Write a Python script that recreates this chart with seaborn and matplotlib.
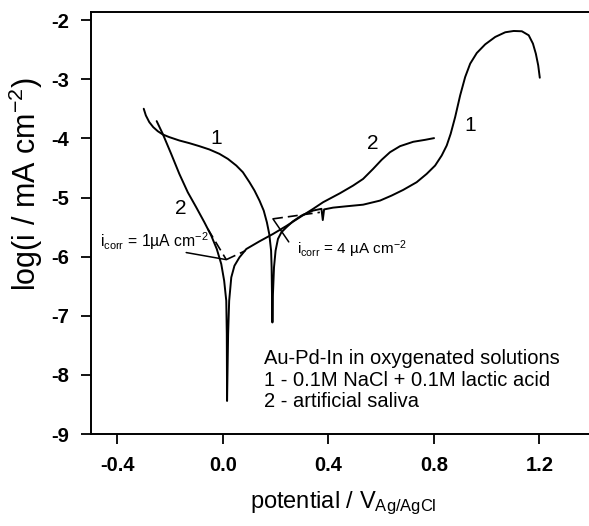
import numpy as np
import pandas as pd
import matplotlib
matplotlib.use("Agg")
import matplotlib.pyplot as plt
import seaborn as sns

# ---- data ----
curve1_E = [-0.300, -0.292, -0.279, -0.264, -0.247, -0.228, -0.203, -0.165, -0.127, -0.089,
            -0.051, -0.013, 0.019, 0.051, 0.076, 0.101, 0.120, 0.139, 0.155, 0.167,
            0.176, 0.183, 0.185, 0.186, 0.188,
            0.190, 0.194, 0.200, 0.209, 0.222, 0.241, 0.266, 0.298, 0.342, 0.374,
            0.379, 0.384, 0.418, 0.469, 0.532, 0.596, 0.640, 0.684, 0.735, 0.773,
            0.805, 0.830, 0.849, 0.864, 0.881, 0.900, 0.919, 0.938, 0.963, 0.995,
            1.033, 1.071, 1.103, 1.134, 1.160, 1.176, 1.187, 1.196, 1.202]
curve1_logi = [-3.497, -3.610, -3.723, -3.808, -3.876, -3.932, -3.977, -4.034, -4.079, -4.130,
               -4.186, -4.260, -4.345, -4.458, -4.571, -4.740, -4.881, -5.051, -5.220, -5.418,
               -5.616, -5.898, -6.181, -6.520, -7.113,
               -6.633, -6.181, -5.898, -5.700, -5.588, -5.503, -5.401, -5.305, -5.220, -5.190,
               -5.380, -5.200, -5.170, -5.147, -5.120, -5.051, -4.966, -4.870, -4.740, -4.599,
               -4.458, -4.288, -4.119, -3.921, -3.638, -3.271, -2.960, -2.734, -2.554, -2.407,
               -2.282, -2.203, -2.181, -2.186, -2.254, -2.395, -2.565, -2.763, -2.972]

curve2_E = [-0.251, -0.228, -0.196, -0.165, -0.133, -0.101, -0.070, -0.044, -0.023, -0.006,
            0.005, 0.013, 0.015, 0.016,
            0.020, 0.024, 0.032, 0.044, 0.063, 0.089, 0.139, 0.190, 0.241, 0.292,
            0.342, 0.380, 0.444, 0.494, 0.532, 0.570, 0.602, 0.634, 0.672, 0.722,
            0.767, 0.801]
curve2_logi = [-3.706, -3.921, -4.260, -4.599, -4.910, -5.164, -5.418, -5.644, -5.870, -6.124,
               -6.407, -6.746, -7.311, -8.441,
               -7.311, -6.746, -6.350, -6.153, -6.011, -5.870, -5.740, -5.616, -5.480, -5.333,
               -5.192, -5.079, -4.927, -4.797, -4.684, -4.514, -4.362, -4.232, -4.130, -4.056,
               -4.023, -3.994]

# Tafel extrapolation lines (dashed) and leader lines (solid)
tafel2_cath_E = [-0.057, 0.013]
tafel2_cath_logi = [-5.53, -6.05]
tafel2_anod_E = [0.013, 0.085]
tafel2_anod_logi = [-6.05, -5.90]
tafel1_E = [0.190, 0.368]
tafel1_logi = [-5.36, -5.25]
leader1_E = [-0.139, 0.013]
leader1_logi = [-5.93, -6.05]
leader2_E = [0.190, 0.250]
leader2_logi = [-5.36, -5.75]

x_ticks = [-0.4, 0.0, 0.4, 0.8, 1.2]
x_tick_labels = ["-0.4", "0.0", "0.4", "0.8", "1.2"]
y_ticks = [-9, -8, -7, -6, -5, -4, -3, -2]
y_tick_labels = ["-9", "-8", "-7", "-6", "-5", "-4", "-3", "-2"]

curve_labels = ["1", "1", "2", "2"]
curve_label_E = [-0.025, 0.938, 0.568, -0.158]
curve_label_logi = [-4.00, -3.78, -4.09, -5.19]

legend_lines = ["Au-Pd-In in oxygenated solutions",
                "1 - 0.1M NaCl + 0.1M lactic acid",
                "2 - artificial saliva"]

# ---- style ----
sns.set_theme(style="ticks")
plt.rcParams["font.family"] = ["Liberation Sans", "DejaVu Sans"]
plt.rcParams["mathtext.fontset"] = "custom"
plt.rcParams["mathtext.rm"] = "Liberation Sans"
plt.rcParams["mathtext.it"] = "Liberation Sans:italic"
plt.rcParams["mathtext.bf"] = "Liberation Sans:bold"
for key in ["text.color", "axes.labelcolor", "xtick.color", "ytick.color", "axes.edgecolor"]:
    plt.rcParams[key] = "black"

W, H = 589, 526
fig = plt.figure(figsize=(W / 100, H / 100), dpi=100)
ax = fig.add_axes([91 / W, 92 / H, (592 - 91) / W, (434 - 12) / H])

df1 = pd.DataFrame({"E": curve1_E, "logi": curve1_logi})
df2 = pd.DataFrame({"E": curve2_E, "logi": curve2_logi})
sns.lineplot(data=df1, x="E", y="logi", sort=False, estimator=None, color="black", lw=1.4, ax=ax)
sns.lineplot(data=df2, x="E", y="logi", sort=False, estimator=None, color="black", lw=1.4, ax=ax)

for ex, ey in [(tafel2_cath_E, tafel2_cath_logi), (tafel2_anod_E, tafel2_anod_logi), (tafel1_E, tafel1_logi)]:
    ax.plot(ex, ey, color="black", lw=1.2, dashes=(6, 3))
for ex, ey in [(leader1_E, leader1_logi), (leader2_E, leader2_logi)]:
    ax.plot(ex, ey, color="black", lw=1.1)

for lab, ex, ey in zip(curve_labels, curve_label_E, curve_label_logi):
    ax.text(ex, ey, lab, fontsize=15, ha="center", va="center", color="black")

ax.text(-0.465, -5.84, r"i$_{\rm corr}$ = 1µA cm$^{-2}$", fontsize=11.3, ha="left", va="baseline")
ax.text(0.280, -5.95, r"i$_{\rm corr}$ = 4 µA cm$^{-2}$", fontsize=11, ha="left", va="baseline")

leg_base = [-7.81, -8.18, -8.54]
for line, yb in zip(legend_lines, leg_base):
    ax.text(0.156, yb, line, fontsize=14.5, ha="left", va="baseline")

ax.set_xlim(-0.5, 1.4)
ax.set_ylim(-9.0, -1.86)
ax.set_xticks(x_ticks)
ax.set_xticklabels(x_tick_labels, fontsize=14.5, fontweight="bold")
ax.set_yticks(y_ticks)
ax.set_yticklabels(y_tick_labels, fontsize=14.5, fontweight="bold")
ax.tick_params(axis="both", direction="out", length=7, width=1.3, color="black", pad=9)
for s in ax.spines.values():
    s.set_linewidth(1.4)
    s.set_color("black")
ax.spines["right"].set_visible(False)
ax.set_xlabel("")
ax.set_ylabel("")

fig.text(250 / W, 1 - 508 / H, r"potential / V$_{\rm Ag/AgCl}$", fontsize=17, ha="left", va="baseline")
fig.text(26 / W, 1 - 184 / H, r"log(i / mA cm$^{-2}$)", fontsize=22, rotation=90, ha="center", va="center")

fig.savefig("out.png", dpi=100)
